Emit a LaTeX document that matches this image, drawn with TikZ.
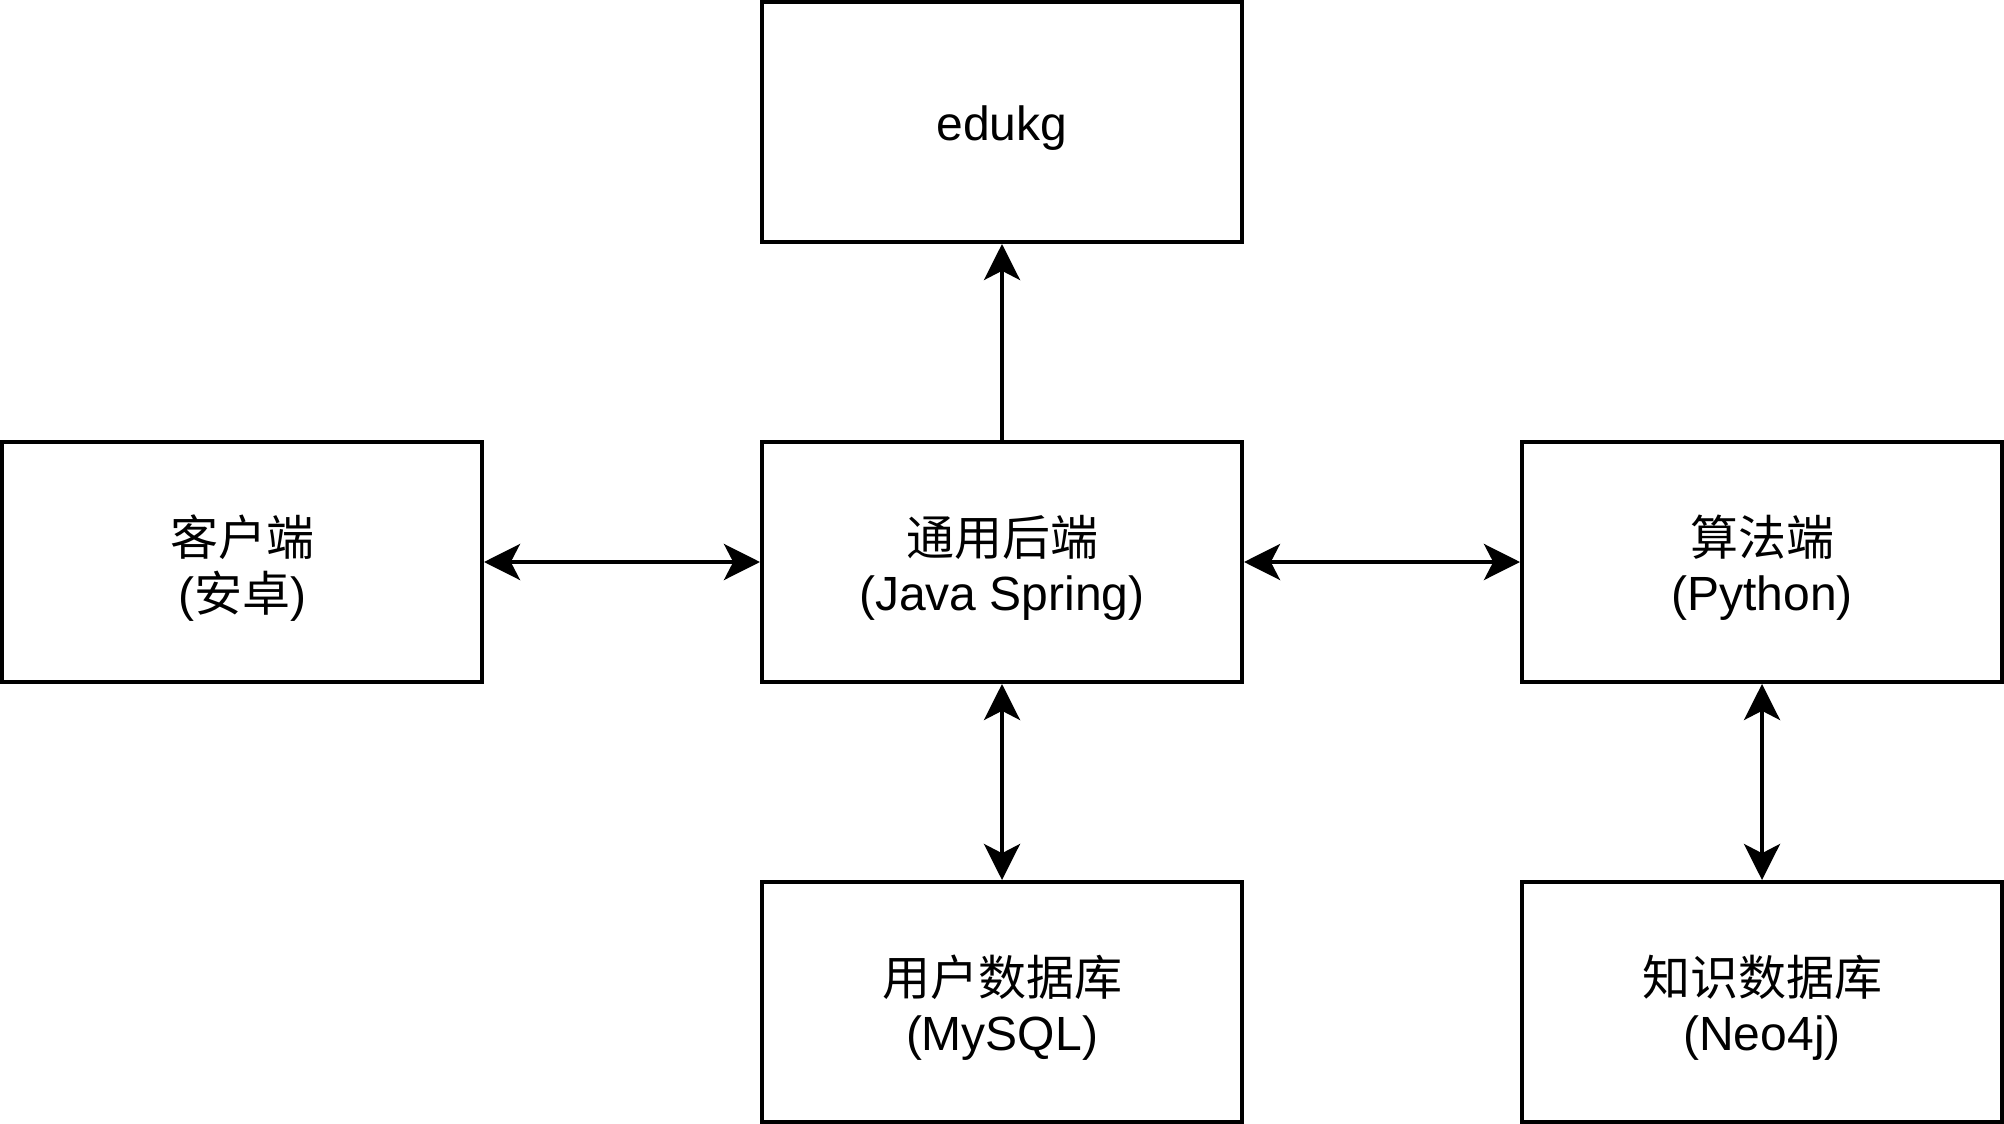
\documentclass[tikz,border=0pt]{standalone}
\usepackage{fontspec}
\setmainfont{Liberation Sans}
\newfontfamily\cjk{Noto Sans CJK SC}
\usetikzlibrary{arrows.meta}
\newcommand\dnline[1]{\raisebox{-1.5pt}[\height][\depth]{#1}}

\begin{document}
\begin{tikzpicture}[x=1pt,y=1pt,
    box/.style={draw,line width=1pt,rectangle,minimum width=120pt,minimum height=60pt,
      inner sep=0pt,align=center,font=\fontsize{12}{13.8}\selectfont},
    link/.style={line width=1pt,{Stealth[length=9pt,width=9pt,inset=2.3pt]}-{Stealth[length=9pt,width=9pt,inset=2.3pt]}},
    uplink/.style={line width=1pt,-{Stealth[length=9pt,width=9pt,inset=2.3pt]}}]
      \useasboundingbox (-0.5,0.5) rectangle (500.5,-280.5);

      %%%%%%%%%%%%%%%%%%%%%%%%%%%%%%%%%%%%%%%%%%%%%%%%%%%%%%%%%%%%%%%%%%%%%%%%%%%
      %%%%  boxes
      \node[box] (edukg) at (250,-30) {\dnline{edukg}};
      \node[box] (client) at (60,-140) {\dnline{\cjk 客户端}\\\dnline{(\cjk 安卓\rmfamily)}};
      \node[box] (backend) at (250,-140) {\dnline{\cjk 通用后端}\\\dnline{(Java Spring)}};
      \node[box] (algo) at (440,-140) {\dnline{\cjk 算法端}\\\dnline{(Python)}};
      \node[box] (userdb) at (250,-250) {\dnline{\cjk 用户数据库}\\\dnline{(MySQL)}};
      \node[box] (kgdb) at (440,-250) {\dnline{\cjk 知识数据库}\\\dnline{(Neo4j)}};

      %%%%%%%%%%%%%%%%%%%%%%%%%%%%%%%%%%%%%%%%%%%%%%%%%%%%%%%%%%%%%%%%%%%%%%%%%%%
      %%%%  links
      \draw[uplink] (backend) -- (edukg);
      \draw[link] (client) -- (backend);
      \draw[link] (backend) -- (algo);
      \draw[link] (backend) -- (userdb);
      \draw[link] (algo) -- (kgdb);
    \end{tikzpicture}
\end{document}
